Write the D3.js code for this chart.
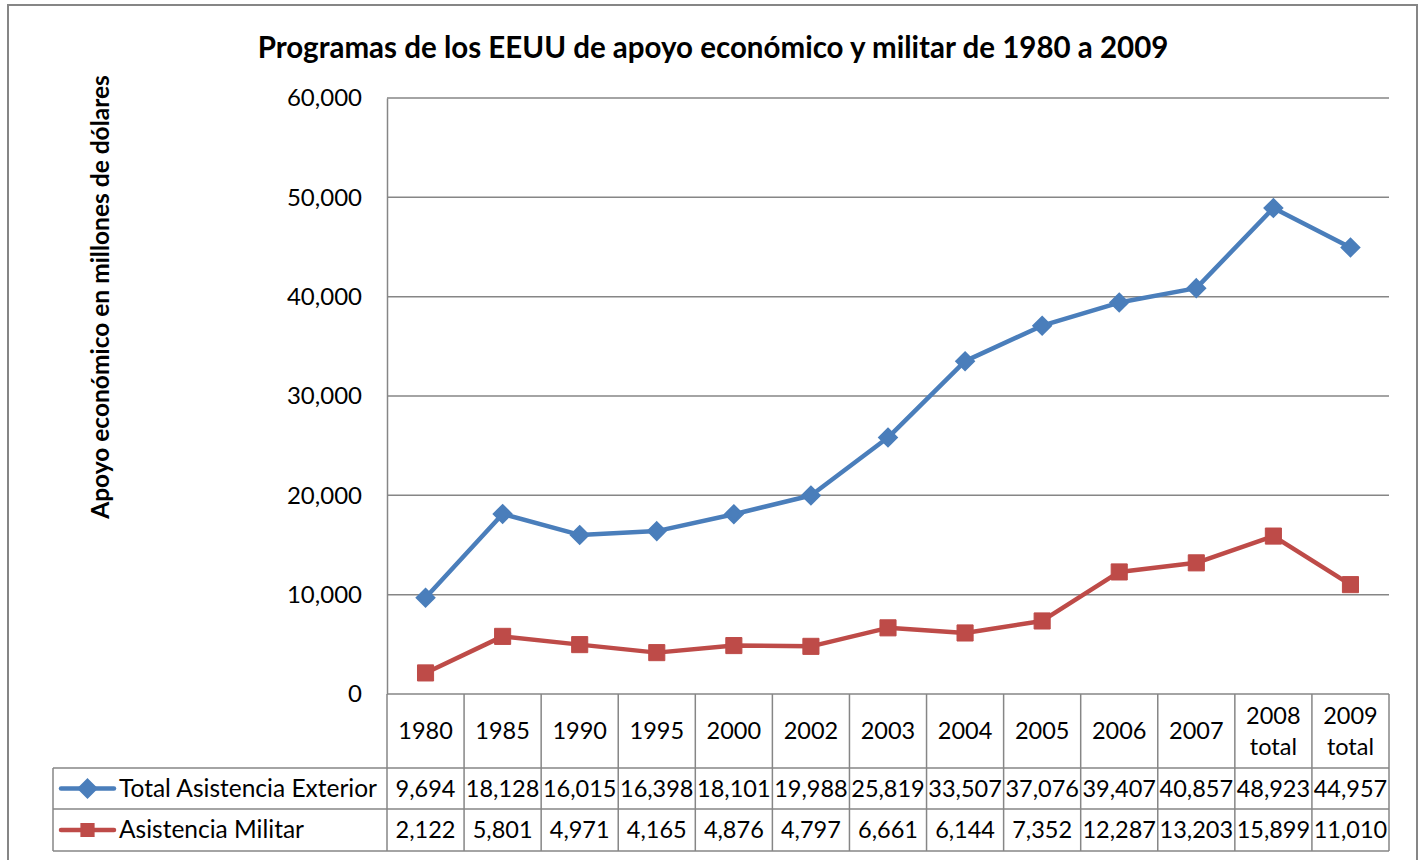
<!DOCTYPE html>
<html>
<head>
<meta charset="utf-8">
<script src="https://cdn.jsdelivr.net/npm/d3@7"></script>
<style>
  body { margin: 0; background: #fff; }
  svg { font-family: Lato, "Open Sans", sans-serif; }
</style>
</head>
<body>
<div id="chart"></div>
<script>
var years = ["1980", "1985", "1990", "1995", "2000", "2002", "2003", "2004", "2005", "2006", "2007", "2008 total", "2009 total"];
var totalExterior = [9694, 18128, 16015, 16398, 18101, 19988, 25819, 33507, 37076, 39407, 40857, 48923, 44957];
var militar = [2122, 5801, 4971, 4165, 4876, 4797, 6661, 6144, 7352, 12287, 13203, 15899, 11010];
var seriesNames = ["Total Asistencia Exterior", "Asistencia Militar"];
var yTicks = [0, 10000, 20000, 30000, 40000, 50000, 60000];

var width = 1424, height = 860;
var plotLeft = 387, plotRight = 1389, plotTop = 98, plotBottom = 694;
var grey = "#868686";
var colors = ["#4A7EBB", "#BE4B48"];

var svg = d3.select("#chart").append("svg")
    .attr("width", width)
    .attr("height", height);

// outer chart frame
svg.append("rect")
    .attr("x", 8).attr("y", 5)
    .attr("width", 1409).attr("height", 900)
    .attr("fill", "none")
    .attr("stroke", grey)
    .attr("stroke-width", 2);

svg.append("text")
    .attr("x", 713).attr("y", 58)
    .attr("text-anchor", "middle")
    .attr("font-size", 29.5)
    .attr("font-weight", "bold")
    .text("Programas de los EEUU de apoyo económico y militar de 1980 a 2009");

svg.append("text")
    .attr("transform", "translate(109,297) rotate(-90)")
    .attr("text-anchor", "middle")
    .attr("font-size", 24.5)
    .attr("font-weight", "bold")
    .text("Apoyo económico en millones de dólares");

var x = d3.scaleBand().domain(years).range([plotLeft, plotRight]);
var y = d3.scaleLinear().domain([0, 60000]).range([plotBottom, plotTop]);

// gridlines
svg.append("g")
  .selectAll("line")
  .data(yTicks)
  .enter().append("line")
    .attr("x1", plotLeft).attr("x2", plotRight)
    .attr("y1", function(d) { return y(d); })
    .attr("y2", function(d) { return y(d); })
    .attr("stroke", grey)
    .attr("stroke-width", 1.5);

var yAxis = svg.append("g")
    .attr("transform", "translate(" + plotLeft + ",0)")
    .call(d3.axisLeft(y).tickValues(yTicks).tickSize(0).tickPadding(25).tickFormat(d3.format(",")));
yAxis.select(".domain").attr("stroke", grey).attr("stroke-width", 1.5);
yAxis.selectAll("text").attr("font-size", 24).attr("fill", "#000").attr("font-family", "Lato, sans-serif");

// data table
var rowH = [plotBottom, 768, 809, 851];
var labelLeft = 53;
var tbl = svg.append("g").attr("stroke", grey).attr("stroke-width", 1.5).attr("fill", "none");
years.forEach(function(yr) {
  tbl.append("line")
    .attr("x1", x(yr)).attr("x2", x(yr))
    .attr("y1", plotBottom).attr("y2", rowH[3]);
});
tbl.append("line").attr("x1", plotRight).attr("x2", plotRight).attr("y1", plotBottom).attr("y2", rowH[3]);
tbl.append("line").attr("x1", labelLeft).attr("x2", labelLeft).attr("y1", rowH[1]).attr("y2", rowH[3]);
[1, 2, 3].forEach(function(k) {
  tbl.append("line").attr("x1", labelLeft).attr("x2", plotRight).attr("y1", rowH[k]).attr("y2", rowH[k]);
});

// header labels
var head = svg.append("g").attr("font-size", 23.5).attr("text-anchor", "middle");
years.forEach(function(yr) {
  var parts = yr.split(" ");
  var cx = x(yr) + x.bandwidth() / 2;
  if (parts.length === 1) {
    head.append("text").attr("x", cx).attr("y", 739).text(yr);
  } else {
    head.append("text").attr("x", cx).attr("y", 724).text(parts[0]);
    head.append("text").attr("x", cx).attr("y", 755).text(parts[1]);
  }
});

var fmt = d3.format(",");
[totalExterior, militar].forEach(function(vals, s) {
  var cy = (rowH[s + 1] + rowH[s + 2]) / 2 + 8;
  var g = svg.append("g").attr("font-size", 23.5).attr("text-anchor", "middle");
  vals.forEach(function(v, i) {
    g.append("text").attr("x", x(years[i]) + x.bandwidth() / 2).attr("y", cy).text(fmt(v));
  });
  // legend key in table
  svg.append("line")
    .attr("x1", 61).attr("x2", 114).attr("y1", cy - 8).attr("y2", cy - 8)
    .attr("stroke", colors[s]).attr("stroke-width", 4.5).attr("stroke-linecap", "round");
  svg.append("path")
    .attr("transform", "translate(87.5," + (cy - 8) + ")")
    .attr("d", d3.symbol().type(s === 0 ? d3.symbolDiamond2 : d3.symbolSquare2).size(s === 0 ? 150 : 190)())
    .attr("fill", colors[s]).attr("stroke", colors[s]).attr("stroke-width", s === 0 ? 4 : 2);
  svg.append("text")
    .attr("x", 119).attr("y", cy)
    .attr("font-size", 24.5)
    .text(seriesNames[s]);
});

// lines and markers
var line = d3.line()
    .x(function(d, i) { return x(years[i]) + x.bandwidth() / 2; })
    .y(function(d) { return y(d); });

[totalExterior, militar].forEach(function(vals, s) {
  svg.append("path")
    .datum(vals)
    .attr("d", line)
    .attr("fill", "none")
    .attr("stroke", colors[s])
    .attr("stroke-width", 4.5)
    .attr("stroke-linejoin", "round");
  svg.append("g")
    .selectAll("path")
    .data(vals)
    .enter().append("path")
      .attr("transform", function(d, i) {
        return "translate(" + (x(years[i]) + x.bandwidth() / 2) + "," + y(d) + ")";
      })
      .attr("d", d3.symbol().type(s === 0 ? d3.symbolDiamond2 : d3.symbolSquare2).size(s === 0 ? 170 : 330)())
      .attr("fill", colors[s])
      .attr("stroke", colors[s])
      .attr("stroke-width", s === 0 ? 3 : 1);
});
</script>
</body>
</html>
